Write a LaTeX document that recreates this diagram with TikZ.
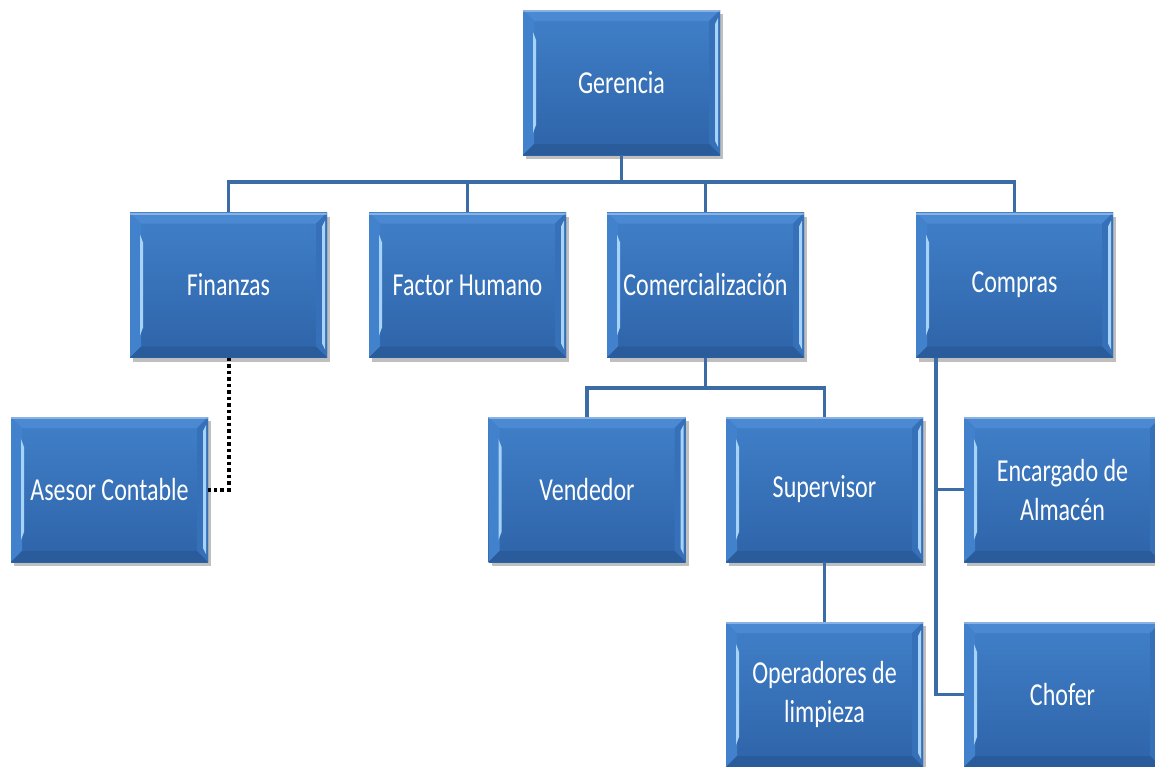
\documentclass[tikz,border=0pt]{standalone}
\usepackage{fontspec}
\newfontfamily\orgfontfam{Carlito}[FakeStretch=0.75]
\usetikzlibrary{shadows}
\definecolor{boxtop}{HTML}{4080C9}
\definecolor{boxbot}{HTML}{2E63A8}
\definecolor{bevtop}{HTML}{4B8AD3}
\definecolor{bevleft}{HTML}{4282CC}
\definecolor{bevright}{HTML}{3670B8}
\definecolor{bevbot}{HTML}{2A5B9B}
\definecolor{hilite}{HTML}{A6D3F7}
\definecolor{connc}{HTML}{3C6CA6}
\newcommand{\orgfont}{\orgfontfam\fontsize{32}{39}\selectfont}
\tikzset{
  orgbox/.style={rectangle, minimum width=197pt, minimum height=145pt, inner sep=0pt,
    text=white, align=center, font=\orgfont,
    top color=boxtop, bottom color=boxbot,
    drop shadow={shadow xshift=3pt, shadow yshift=-4pt, fill=black, opacity=0.25},
    path picture={
      \fill[bevtop] (path picture bounding box.north west) -- (path picture bounding box.north east)
        -- ([shift={(-11pt,-11pt)}]path picture bounding box.north east)
        -- ([shift={(11pt,-11pt)}]path picture bounding box.north west) -- cycle;
      \fill[bevleft] (path picture bounding box.north west) -- ([shift={(11pt,-11pt)}]path picture bounding box.north west)
        -- ([shift={(11pt,11pt)}]path picture bounding box.south west)
        -- (path picture bounding box.south west) -- cycle;
      \fill[bevright] (path picture bounding box.north east) -- ([shift={(-11pt,-11pt)}]path picture bounding box.north east)
        -- ([shift={(-11pt,11pt)}]path picture bounding box.south east)
        -- (path picture bounding box.south east) -- cycle;
      \fill[bevbot] (path picture bounding box.south west) -- (path picture bounding box.south east)
        -- ([shift={(-11pt,11pt)}]path picture bounding box.south east)
        -- ([shift={(11pt,11pt)}]path picture bounding box.south west) -- cycle;
      \fill[hilite] ([shift={(10pt,-22pt)}]path picture bounding box.north west)
        -- ([shift={(13pt,-30pt)}]path picture bounding box.north west)
        -- ([shift={(13pt,30pt)}]path picture bounding box.south west)
        -- ([shift={(10pt,22pt)}]path picture bounding box.south west) -- cycle;
      \fill[hilite] ([shift={(-2pt,-8pt)}]path picture bounding box.north east)
        -- ([shift={(-5pt,-14pt)}]path picture bounding box.north east)
        -- ([shift={(-5pt,14pt)}]path picture bounding box.south east)
        -- ([shift={(-2pt,8pt)}]path picture bounding box.south east) -- cycle;
      \fill[white, opacity=0.35] (path picture bounding box.north west) rectangle ([yshift=-2pt]path picture bounding box.north east);
    }},
  conn/.style={draw=connc, line width=3.8pt},
  dotconn/.style={draw=black, line width=4pt, dash pattern=on 3.5pt off 3pt}
}
\begin{document}
\begin{tikzpicture}[x=1pt, y=-1pt]
\useasboundingbox[fill=white] (0,0) rectangle (1155,766);
\node[orgbox] (ger) at (621.5,82.5) {Gerencia};
\node[orgbox] (fin) at (228.5,285) {Finanzas};
\node[orgbox] (fh)  at (467.5,285) {Factor Humano};
\node[orgbox] (com) at (705.5,285) {Comercialización};
\node[orgbox] (cpr) at (1014.5,285) {Compras};
\node[orgbox] (ase) at (109.5,489.5) {Asesor Contable};
\node[orgbox] (ven) at (587,489.5) {Vendedor};
\node[orgbox] (sup) at (824.5,489.5) {Supervisor};
\node[orgbox] (enc) at (1062.5,489.5) {Encargado de\\Almacén};
\node[orgbox] (ope) at (824.5,694.5) {Operadores de\\limpieza};
\node[orgbox] (cho) at (1062.5,694.5) {Chofer};
% connectors
\coordinate (b1) at (0,182);
\coordinate (b2) at (0,388);
\coordinate (cv) at ([xshift=20pt]cpr.south west);
\draw[conn] (ger.south) -- (ger.south |- b1);
\draw[conn] (fin.north) -- (fin.north |- b1) -- (cpr.north |- b1) -- (cpr.north);
\draw[conn] (fh.north) -- (fh.north |- b1);
\draw[conn] (com.north) -- (com.north |- b1);
\draw[conn] (com.south) -- (com.south |- b2);
\draw[conn] (ven.north) -- (ven.north |- b2) -- (sup.north |- b2) -- (sup.north);
\draw[conn] (sup.south) -- (ope.north);
\draw[conn] (cv) |- (cho.west);
\draw[conn] (enc.west) -| (cv);
\draw[dotconn] (fin.south) |- (ase.east);
\end{tikzpicture}
\end{document}
